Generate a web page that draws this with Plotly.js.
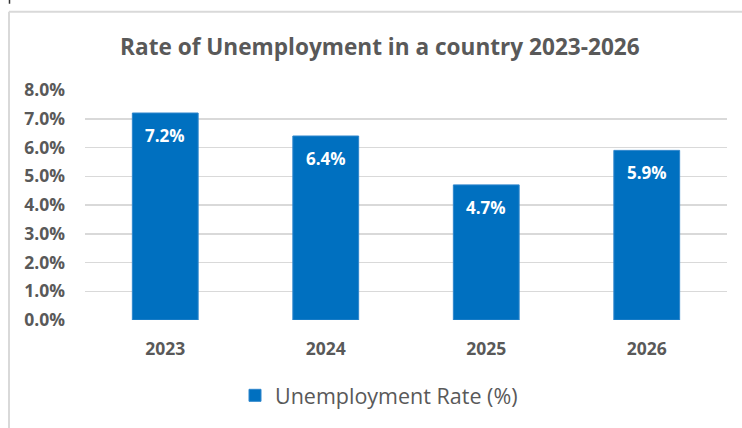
<!DOCTYPE html>
<html>
<head>
<meta charset="utf-8">
<script src="https://cdn.plot.ly/plotly-3.0.1.min.js"></script>
<style>html,body{margin:0;padding:0;background:#fff;}#chart{width:742px;height:428px;}</style>
</head>
<body>
<div id="chart"></div>
<script>
const years = ['2023', '2024', '2025', '2026'];
const rates = [7.2, 6.4, 4.7, 5.9];
const rateLabels = ['7.2%', '6.4%', '4.7%', '5.9%'];
const yTickVals = [0, 1, 2, 3, 4, 5, 6, 7, 8];
const yTickText = ['0.0%', '1.0%', '2.0%', '3.0%', '4.0%', '5.0%', '6.0%', '7.0%', '8.0%'];
const seriesName = 'Unemployment Rate (%)';
const chartTitle = 'Rate of Unemployment in a country 2023-2026';

const FONT = '"Open Sans", "Noto Sans", "Liberation Sans", sans-serif';
const GRAY = '#595959';

const trace = {
  type: 'bar',
  x: years,
  y: rates,
  name: seriesName,
  marker: {color: '#0070C0', line: {color: '#2f86cc', width: 1}},
  width: 0.41,
  showlegend: true,
  hoverinfo: 'none'
};

const annotations = rates.map((v, i) => ({
  x: i, y: v, xref: 'x', yref: 'y',
  text: rateLabels[i], showarrow: false,
  yanchor: 'top', yshift: -9,
  font: {family: FONT, size: 17, color: '#ffffff', weight: 'bold'}
}));

const layout = {
  width: 742, height: 428,
  margin: {l: 85, r: 15, t: 90, b: 106},
  paper_bgcolor: '#ffffff',
  plot_bgcolor: '#ffffff',
  font: {family: FONT, color: GRAY},
  title: {
    text: chartTitle,
    font: {family: FONT, size: 22.6, color: GRAY, weight: 'bold'},
    xref: 'container', yref: 'container',
    x: 0.512, xanchor: 'center', y: 1 - 47/428, yanchor: 'middle'
  },
  xaxis: {
    type: 'category',
    range: [-0.5, 3.5],
    showgrid: false, zeroline: false, showline: false,
    ticks: '',
    ticklabelstandoff: 16,
    tickfont: {family: FONT, size: 17.5, color: GRAY, weight: 'bold'}
  },
  yaxis: {
    range: [0, 8],
    tickvals: yTickVals,
    ticktext: yTickText,
    showgrid: true, gridcolor: '#d9d9d9', gridwidth: 1.5,
    zeroline: false, showline: false,
    ticks: '',
    ticklabelstandoff: 19,
    tickfont: {family: FONT, size: 17.5, color: GRAY, weight: 'bold'}
  },
  showlegend: true,
  legend: {
    orientation: 'h',
    x: (379 - 85) / 642, xanchor: 'center',
    y: (322 - 398) / 232, yanchor: 'middle',
    font: {family: FONT, size: 21.5, color: GRAY},
    itemwidth: 30
  },
  annotations: annotations,
  shapes: [
    {type: 'line', xref: 'paper', yref: 'paper',
     x0: (9 - 85) / 642, x1: (760 - 85) / 642,
     y0: 1 + (90 - 11) / 232, y1: 1 + (90 - 11) / 232,
     line: {color: '#d9d9d9', width: 2}},
    {type: 'line', xref: 'paper', yref: 'paper',
     x0: (9 - 85) / 642, x1: (9 - 85) / 642,
     y0: 1 + (90 - 11) / 232, y1: (322 - 440) / 232,
     line: {color: '#d9d9d9', width: 2}},
    {type: 'line', xref: 'paper', yref: 'paper',
     x0: (9.5 - 85) / 642, x1: (9.5 - 85) / 642,
     y0: 1 + (90 + 1) / 232, y1: 1 + (90 - 3) / 232,
     line: {color: '#333333', width: 1.5}}
  ]
};

Plotly.newPlot('chart', [trace], layout, {displayModeBar: false, staticPlot: true});
</script>
</body>
</html>
